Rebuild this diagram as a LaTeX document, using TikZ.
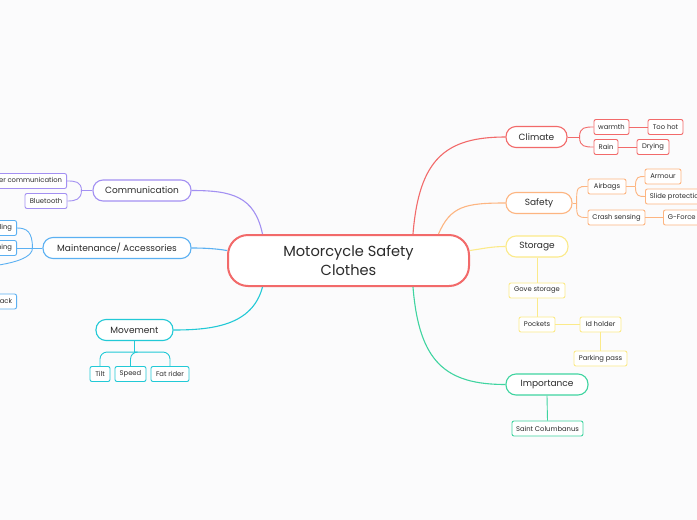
\documentclass[tikz,border=0pt]{standalone}
\usepackage{fontspec}
\setmainfont{Poppins}
\definecolor{cred}{HTML}{F26A6A}
\definecolor{corange}{HTML}{FDB581}
\definecolor{cyellow}{HTML}{FBEA8A}
\definecolor{cgreen}{HTML}{3FD4A0}
\definecolor{ccyan}{HTML}{22C9D6}
\definecolor{cblue}{HTML}{5BB0F2}
\definecolor{cpurple}{HTML}{A390F2}
\definecolor{ctext}{HTML}{2B2B2B}
\definecolor{cbg}{HTML}{FBFBFC}
\tikzset{
  mainbox/.style={draw=cred, line width=2pt, rounded corners=20pt, fill=white, text=ctext,
    minimum width=241pt, minimum height=51pt, inner sep=0pt, align=center, font=\fontsize{14.6}{19.5}\selectfont},
  branch/.style={draw=#1, line width=1.1pt, rounded corners=10pt, fill=white, text=ctext,
    minimum height=21pt, inner sep=0pt, font=\fontsize{9}{10}\selectfont},
  leaf/.style={draw=#1, line width=0.9pt, rounded corners=2pt, fill=white, text=ctext,
    minimum height=15pt, inner sep=0pt, font=\fontsize{6.8}{7.5}\selectfont},
  edgeleaf/.style={leaf=#1, minimum width=0pt, inner xsep=4.5pt},
  conn/.style={draw=#1, line width=1.1pt},
  subconn/.style={draw=#1, line width=0.9pt},
}
\begin{document}
\begin{tikzpicture}[x=1pt,y=-1pt]
\fill[cbg] (0,0) rectangle (697,520);
\useasboundingbox (0,0) rectangle (697,520);

% central
\node[mainbox] (main) at (348.5,260.5) {Motorcycle Safety\\Clothes};

% right branches
\node[branch=cred, minimum width=61pt] (climate) at (536.5,137) {Climate};
\node[leaf=cred, minimum width=35pt] (warmth) at (611.5,127) {warmth};
\node[leaf=cred, minimum width=35pt] (toohot) at (665.5,127) {Too hot};
\node[leaf=cred, minimum width=24pt] (rain) at (606,147) {Rain};
\node[leaf=cred, minimum width=32pt] (drying) at (653,147) {Drying};

\node[branch=corange, minimum width=66pt] (safety) at (539,203) {Safety};
\node[leaf=corange, minimum width=38pt] (airbags) at (607,186.5) {Airbags};
\node[leaf=corange, minimum width=36pt] (armour) at (663,176.5) {Armour};
\node[edgeleaf=corange, anchor=west] (slide) at (645,196.5) {Slide protection};
\node[leaf=corange, minimum width=57pt] (crash) at (616.5,217.5) {Crash sensing};
\node[edgeleaf=corange, anchor=west] (gforce) at (663,217.5) {G-Force};

\node[branch=cyellow, minimum width=62pt] (storage) at (537,246.5) {Storage};
\node[leaf=cyellow, minimum width=56pt] (gove) at (537,290.5) {Gove storage};
\node[leaf=cyellow, minimum width=36pt] (pockets) at (537,324.5) {Pockets};
\node[leaf=cyellow, minimum width=41pt] (idholder) at (600.5,324.5) {Id holder};
\node[leaf=cyellow, minimum width=53pt] (parking) at (600.5,358.5) {Parking pass};

\node[branch=cgreen, minimum width=82pt] (importance) at (547,384.5) {Importance};
\node[leaf=cgreen, minimum width=71pt] (saint) at (547.5,428.5) {Saint Columbanus};

% left branches
\node[branch=cpurple, minimum width=98pt] (comm) at (142,190.5) {Communication};
\node[edgeleaf=cpurple, anchor=east] (passenger) at (67,181) {Passenger communication};
\node[leaf=cpurple, minimum width=42pt] (bluetooth) at (46,201) {Bluetooth};

\node[branch=cblue, minimum width=148pt] (maint) at (117,248) {Maintenance/ Accessories};
\node[edgeleaf=cblue, anchor=east] (lling) at (17,228) {Travelling};
\node[edgeleaf=cblue, anchor=east] (ning) at (17,248) {Cleaning};
\node[edgeleaf=cblue, anchor=east] (back) at (17,301.5) {Backpack};
\coordinate (mfar) at (-25,268);

\node[branch=ccyan, minimum width=77pt] (movement) at (134.5,330) {Movement};
\node[leaf=ccyan, minimum width=20pt] (tilt) at (100,374) {Tilt};
\node[leaf=ccyan, minimum width=31pt] (speed) at (130.5,374) {Speed};
\node[leaf=ccyan, minimum width=38pt] (fatrider) at (170,374) {Fat rider};

% main connectors
\draw[conn=cred] ([xshift=64.5pt]main.north) .. controls +(6,-75) and +(-60,0) .. (climate.west);
\draw[conn=corange] ([xshift=90pt]main.north) .. controls +(12,-28) and +(-40,0) .. (safety.west);
\draw[conn=cyellow] ([yshift=10pt]main.east) .. controls +(14,-2) and +(-14,0) .. (storage.west);
\draw[conn=cgreen] ([xshift=64.5pt]main.south) .. controls +(6,75) and +(-60,0) .. (importance.west);
\draw[conn=cpurple] ([xshift=-86pt]main.north) .. controls +(-8,-38) and +(40,0) .. (comm.east);
\draw[conn=cblue] ([yshift=10pt]main.west) .. controls +(-12,-2) and +(12,0) .. (maint.east);
\draw[conn=ccyan] ([xshift=-86pt]main.south) .. controls +(-10,38) and +(40,0) .. (movement.east);

% climate
\coordinate (cj) at ([xshift=12pt]climate.east);
\draw[subconn=cred] (climate.east) -- (cj);
\draw[subconn=cred] (cj) .. controls +(0,-10) and +(-8,0) .. (warmth.west);
\draw[subconn=cred] (cj) .. controls +(0,10) and +(-8,0) .. (rain.west);
\draw[subconn=cred] (warmth.east) -- (toohot.west);
\draw[subconn=cred] (rain.east) -- (drying.west);

% safety
\coordinate (sj) at ([xshift=4pt]safety.east);
\draw[subconn=corange] (safety.east) -- (sj);
\draw[subconn=corange] (sj) .. controls +(0,-17) and +(-10,0) .. (airbags.west);
\draw[subconn=corange] (sj) .. controls +(0,14) and +(-10,0) .. (crash.west);
\coordinate (aj) at ([xshift=9pt]airbags.east);
\draw[subconn=corange] (airbags.east) -- (aj);
\draw[subconn=corange] (aj) .. controls +(0,-10) and +(-6,0) .. (armour.west);
\draw[subconn=corange] (aj) .. controls +(0,10) and +(-6,0) .. (slide.west);
\draw[subconn=corange] (crash.east) -- (gforce.west);

% storage
\draw[subconn=cyellow] (storage.south) -- (gove.north);
\draw[subconn=cyellow] (gove.south) -- (pockets.north);
\draw[subconn=cyellow] (pockets.east) -- (idholder.west);
\draw[subconn=cyellow] (idholder.south) -- (parking.north);

% importance
\draw[subconn=cgreen] (importance.south) -- (saint.north);

% communication
\coordinate (coj) at ([xshift=-11pt]comm.west);
\draw[subconn=cpurple] (comm.west) -- (coj);
\draw[subconn=cpurple] (coj) .. controls +(0,-9) and +(8,0) .. (passenger.east);
\draw[subconn=cpurple] (coj) .. controls +(0,9) and +(8,0) .. (bluetooth.east);

% maintenance
\coordinate (mj) at ([xshift=-10pt]maint.west);
\draw[subconn=cblue] (maint.west) -- (ning.east);
\draw[subconn=cblue] (mj) .. controls +(0,-16) and +(10,0) .. (lling.east);
\draw[subconn=cblue] (mj) .. controls +(0,14) and +(20,-2) .. (mfar);

% movement
\coordinate (mvj) at ([yshift=-11pt]movement.south);
\draw[subconn=ccyan] (movement.south) -- (mvj);
\draw[subconn=ccyan, rounded corners=7pt] (mvj) -| (tilt.north);
\draw[subconn=ccyan, rounded corners=7pt] (mvj) -| (speed.north);
\draw[subconn=ccyan, rounded corners=7pt] (mvj) -| (fatrider.north);
\end{tikzpicture}
\end{document}
